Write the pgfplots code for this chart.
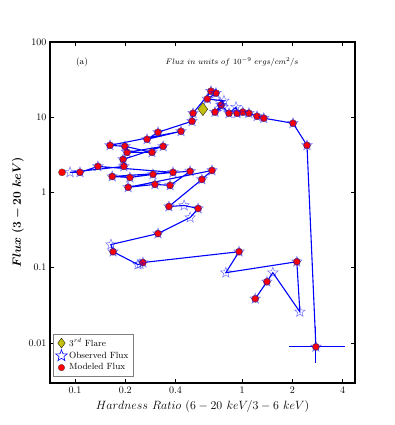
\documentclass[border=0pt]{standalone}
\usepackage{pgfplots}
\pgfplotsset{compat=1.18}
\usepackage{amsmath,bm}
\usetikzlibrary{plotmarks}

\definecolor{flare}{RGB}{196,190,16}

% open five-pointed star
\pgfdeclareplotmark{ostar}{%
  \pgfpathmoveto{\pgfpointpolar{90}{\pgfplotmarksize}}%
  \pgfpathlineto{\pgfpointpolar{126}{0.42\pgfplotmarksize}}%
  \pgfpathlineto{\pgfpointpolar{162}{\pgfplotmarksize}}%
  \pgfpathlineto{\pgfpointpolar{198}{0.42\pgfplotmarksize}}%
  \pgfpathlineto{\pgfpointpolar{234}{\pgfplotmarksize}}%
  \pgfpathlineto{\pgfpointpolar{270}{0.42\pgfplotmarksize}}%
  \pgfpathlineto{\pgfpointpolar{306}{\pgfplotmarksize}}%
  \pgfpathlineto{\pgfpointpolar{342}{0.42\pgfplotmarksize}}%
  \pgfpathlineto{\pgfpointpolar{18}{\pgfplotmarksize}}%
  \pgfpathlineto{\pgfpointpolar{54}{0.42\pgfplotmarksize}}%
  \pgfpathclose\pgfusepathqstroke}

\begin{document}
\begin{tikzpicture}
\begin{axis}[
  scale only axis, width=305pt, height=341pt,
  xmode=log, ymode=log,
  xmin=0.0708, xmax=4.75, ymin=0.00293, ymax=100,
  xtick={0.1,0.2,0.4,1,2,4}, xticklabels={0.1,0.2,0.4,1,2,4},
  ytick={0.01,0.1,1,10,100}, yticklabels={0.01,0.1,1,10,100},
  tick align=inside, major tick length=4pt, minor tick length=0pt,
  tick style={black, line width=0.6pt},
  ticklabel style={font=\normalsize},
  axis line style={line width=1.6pt},
  xlabel={\fontsize{13}{15}\selectfont $Hardness\ Ratio\ (6-20\ keV/3-6\ keV)$},
  ylabel={\fontsize{12}{14}\selectfont $\boldsymbol{Flux\ (3-20\ keV)}$},
  ylabel style={yshift=-2pt},
  legend style={at={(0.01,0.02)}, anchor=south west, draw=gray, font=\small,
    cells={anchor=west}, row sep=0pt, inner sep=2.5pt},
  clip=false,
]
\addlegendimage{only marks, mark=diamond*, mark size=5pt, mark options={fill=flare, draw=black, line width=0.3pt}}
\addlegendentry{$3^{rd}$ Flare}
\addlegendimage{only marks, mark=ostar, mark size=6pt, mark options={draw=blue, line width=0.6pt}}
\addlegendentry{Observed Flux}
\addlegendimage{only marks, mark=*, mark size=3.3pt, mark options={fill=red, draw=black!70, line width=0.3pt}}
\addlegendentry{Modeled Flux}

% modeled flux
\addplot[forget plot, only marks, mark=*, mark size=3.6pt,
  mark options={fill=red, draw=black!70, line width=0.3pt}] coordinates {
(1.20,0.0386) (1.41,0.065) (2.13,0.120) (0.96,0.163) (0.255,0.117)
(0.169,0.163) (0.314,0.284) (0.546,0.612) (0.365,0.650) (0.575,1.49)
(0.661,1.96) (0.208,1.17) (0.301,1.28) (0.371,1.24) (0.489,1.91)
(0.167,1.63) (0.213,1.58) (0.293,1.74) (0.386,1.85) (0.137,2.22)
(0.107,1.85) (0.0836,1.85) (0.196,2.22) (0.194,2.75) (0.337,4.10)
(0.205,3.41) (0.289,3.41) (0.199,4.10) (0.162,4.23) (0.431,6.50)
(0.270,5.09) (0.314,6.31) (0.502,8.85) (0.509,11.3) (0.652,22.2)
(0.698,20.9) (0.689,11.7) (0.836,11.3) (0.933,11.3) (1.01,11.7)
(1.10,11.3) (1.23,10.3) (1.35,9.70) (2.02,8.32) (2.45,4.23)
(2.77,0.00885) (0.75,14.5) (0.62,17.5)
};

% observed flux
\addplot[forget plot, blue, line width=1.1pt, mark=ostar, mark size=5.5pt,
  mark options={draw=blue, draw opacity=0.55, line width=0.5pt, solid}] coordinates {
(1.20,0.0386) (1.41,0.065) (1.53,0.0858) (2.22,0.0259) (2.13,0.120)
(0.80,0.0858) (0.96,0.163) (0.255,0.117) (0.245,0.112) (0.238,0.110) (0.169,0.163)
(0.164,0.203) (0.314,0.284) (0.489,0.464) (0.546,0.612) (0.450,0.671)
(0.365,0.650) (0.575,1.49) (0.661,1.96) (0.208,1.17) (0.301,1.28)
(0.371,1.24) (0.489,1.91) (0.167,1.63) (0.213,1.58) (0.293,1.74)
(0.386,1.85) (0.137,2.22) (0.107,1.85) (0.0933,1.85) (0.196,2.22)
(0.194,2.75) (0.337,4.10) (0.205,3.41) (0.289,3.41) (0.199,4.10)
(0.162,4.23) (0.431,6.50) (0.270,5.09) (0.314,6.31) (0.502,8.85)
(0.509,11.3) (0.652,22.2) (0.698,20.9) (0.62,17.5) (0.78,16.5)
(0.738,15.8) (0.75,14.5) (0.689,11.7) (0.769,13.6) (0.836,11.3)
(0.921,13.6) (0.933,11.3) (1.01,11.7) (1.10,11.3) (1.23,10.3)
(1.35,9.70) (2.02,8.32) (2.45,4.23) (2.77,0.00885)
};

% error bars on the last point
\addplot[forget plot, blue, mark=none, line width=0.8pt,
  error bars/.cd, x dir=both, x explicit, y dir=both, y explicit,
  error bar style={blue, line width=0.8pt},
  error mark options={blue, mark size=3pt, line width=0.8pt}] coordinates {
(2.77,0.00885) += (1.2,0.006) -= (0.78,0.0029)
};

% 3rd flare
\addplot[forget plot, only marks, mark=diamond*, mark size=6.5pt,
  mark options={fill=flare, draw=black, line width=0.3pt}] coordinates {(0.583,12.8)};

\node[font=\small] at (rel axis cs:0.105,0.941) {(a)};
\node[font=\footnotesize] at (rel axis cs:0.597,0.941) {$Flux\ in\ units\ of\ 10^{-9}\ ergs/cm^{2}/s$};
\end{axis}
\path ([shift={(-50pt,-42pt)}]current axis.south west) rectangle ([shift={(40pt,42pt)}]current axis.north east);
\end{tikzpicture}
\end{document}
